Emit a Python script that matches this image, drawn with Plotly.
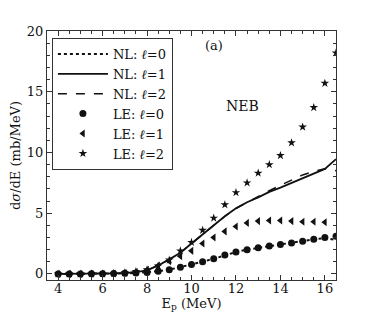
import plotly.graph_objects as go

# Energy grid (MeV)
ep = [4.0, 4.5, 5.0, 5.5, 6.0, 6.5, 7.0, 7.5, 8.0, 8.5, 9.0, 9.5, 10.0, 10.5,
      11.0, 11.5, 12.0, 12.5, 13.0, 13.5, 14.0, 14.5, 15.0, 15.5, 16.0, 16.5]

# NL curves
nl_l0 = [0, 0, 0, 0.01, 0.02, 0.03, 0.05, 0.08, 0.12, 0.22, 0.35, 0.55, 0.78, 1.0,
         1.25, 1.55, 1.8, 2.0, 2.15, 2.3, 2.42, 2.55, 2.7, 2.85, 2.95, 2.8]
nl_l1 = [0, 0, 0, 0.01, 0.02, 0.04, 0.07, 0.15, 0.3, 0.7, 1.2, 1.75, 2.5, 3.25,
         4.0, 4.75, 5.4, 5.9, 6.3, 6.75, 7.1, 7.5, 7.9, 8.25, 8.65, 9.45]
nl_l2 = [0, 0, 0, 0.01, 0.02, 0.04, 0.07, 0.15, 0.3, 0.7, 1.2, 1.75, 2.5, 3.25,
         4.0, 4.75, 5.4, 5.9, 6.35, 6.85, 7.3, 7.75, 8.15, 8.45, 8.65, 8.5]

# LE points
le_l0 = [0, 0, 0, 0.01, 0.02, 0.03, 0.05, 0.08, 0.12, 0.22, 0.35, 0.55, 0.78, 1.0,
         1.25, 1.55, 1.8, 2.0, 2.15, 2.3, 2.42, 2.55, 2.7, 2.85, 3.0, 3.1]
le_l1 = [0, 0, 0, 0.01, 0.02, 0.04, 0.08, 0.15, 0.35, 0.7, 1.05, 1.45, 1.9, 2.5,
         3.0, 3.5, 3.9, 4.2, 4.35, 4.4, 4.4, 4.35, 4.3, 4.3, 4.25, None]
le_l2 = [0, 0, 0, 0.01, 0.02, 0.05, 0.1, 0.2, 0.35, 0.65, 1.15, 1.9, 2.6, 3.6,
         4.6, 5.7, 6.7, 7.5, 8.3, 9.0, 9.75, 10.8, 12.1, 13.7, 15.7, 18.2]

x_ticks = [4, 6, 8, 10, 12, 14, 16]
y_ticks = [0, 5, 10, 15, 20]

FONT = "DejaVu Serif"
BLACK = "#111111"

fig = go.Figure()
fig.add_trace(go.Scatter(x=ep, y=nl_l0, mode="lines", name="NL: <i>ℓ</i>=0",
                         line=dict(color=BLACK, width=2, dash="dot")))
fig.add_trace(go.Scatter(x=ep, y=nl_l1, mode="lines", name="NL: <i>ℓ</i>=1",
                         line=dict(color=BLACK, width=1.8)))
fig.add_trace(go.Scatter(x=ep, y=nl_l2, mode="lines", name="NL: <i>ℓ</i>=2",
                         line=dict(color=BLACK, width=1.5, dash="dash")))
fig.add_trace(go.Scatter(x=ep, y=le_l0, mode="markers", name="LE: <i>ℓ</i>=0",
                         marker=dict(color=BLACK, size=7, symbol="circle")))
fig.add_trace(go.Scatter(x=ep, y=le_l1, mode="markers", name="LE: <i>ℓ</i>=1",
                         marker=dict(color=BLACK, size=7, symbol="triangle-left")))
fig.add_trace(go.Scatter(x=ep, y=le_l2, mode="markers", name="LE: <i>ℓ</i>=2",
                         marker=dict(color=BLACK, size=6.5, symbol="star")))

axis_common = dict(showgrid=False, zeroline=False, showline=True, linecolor="#333333",
                   linewidth=1.2, mirror="ticks", ticks="inside", ticklen=5,
                   tickcolor="#333333", tickfont=dict(family=FONT, size=13, color=BLACK),
                   automargin=False)

fig.update_xaxes(range=[3.5, 16.5], tickvals=x_ticks, ticklabelstandoff=-4,
                 minor=dict(dtick=0.5, ticks="inside", ticklen=3, tickcolor="#333333"),
                 title=dict(text="E<sub>p</sub> (MeV)", font=dict(family=FONT, size=13, color=BLACK),
                            standoff=0),
                 **axis_common)
fig.update_yaxes(range=[-0.5, 20], tickvals=y_ticks,
                 minor=dict(dtick=1, ticks="inside", ticklen=3, tickcolor="#333333"),
                 title=dict(text="d<i>σ</i>/dE (mb/MeV)", font=dict(family=FONT, size=13, color=BLACK),
                            standoff=4),
                 **axis_common)

fig.add_annotation(x=11.0, y=18.8, text="(a)", showarrow=False,
                   font=dict(family=FONT, size=13, color=BLACK))
fig.add_annotation(x=12.3, y=13.8, text="NEB", showarrow=False,
                   font=dict(family=FONT, size=14, color=BLACK))

fig.update_layout(
    width=374, height=312,
    margin=dict(l=39, r=46, t=23, b=40),
    paper_bgcolor="white", plot_bgcolor="white",
    font=dict(family=FONT, size=13, color=BLACK),
    legend=dict(x=0.017, y=0.972, xanchor="left", yanchor="top",
                bordercolor="#333333", borderwidth=1, bgcolor="white",
                font=dict(family=FONT, size=13, color=BLACK),
                tracegroupgap=0, itemwidth=50),
    showlegend=True,
)

fig.write_html("out.html")
